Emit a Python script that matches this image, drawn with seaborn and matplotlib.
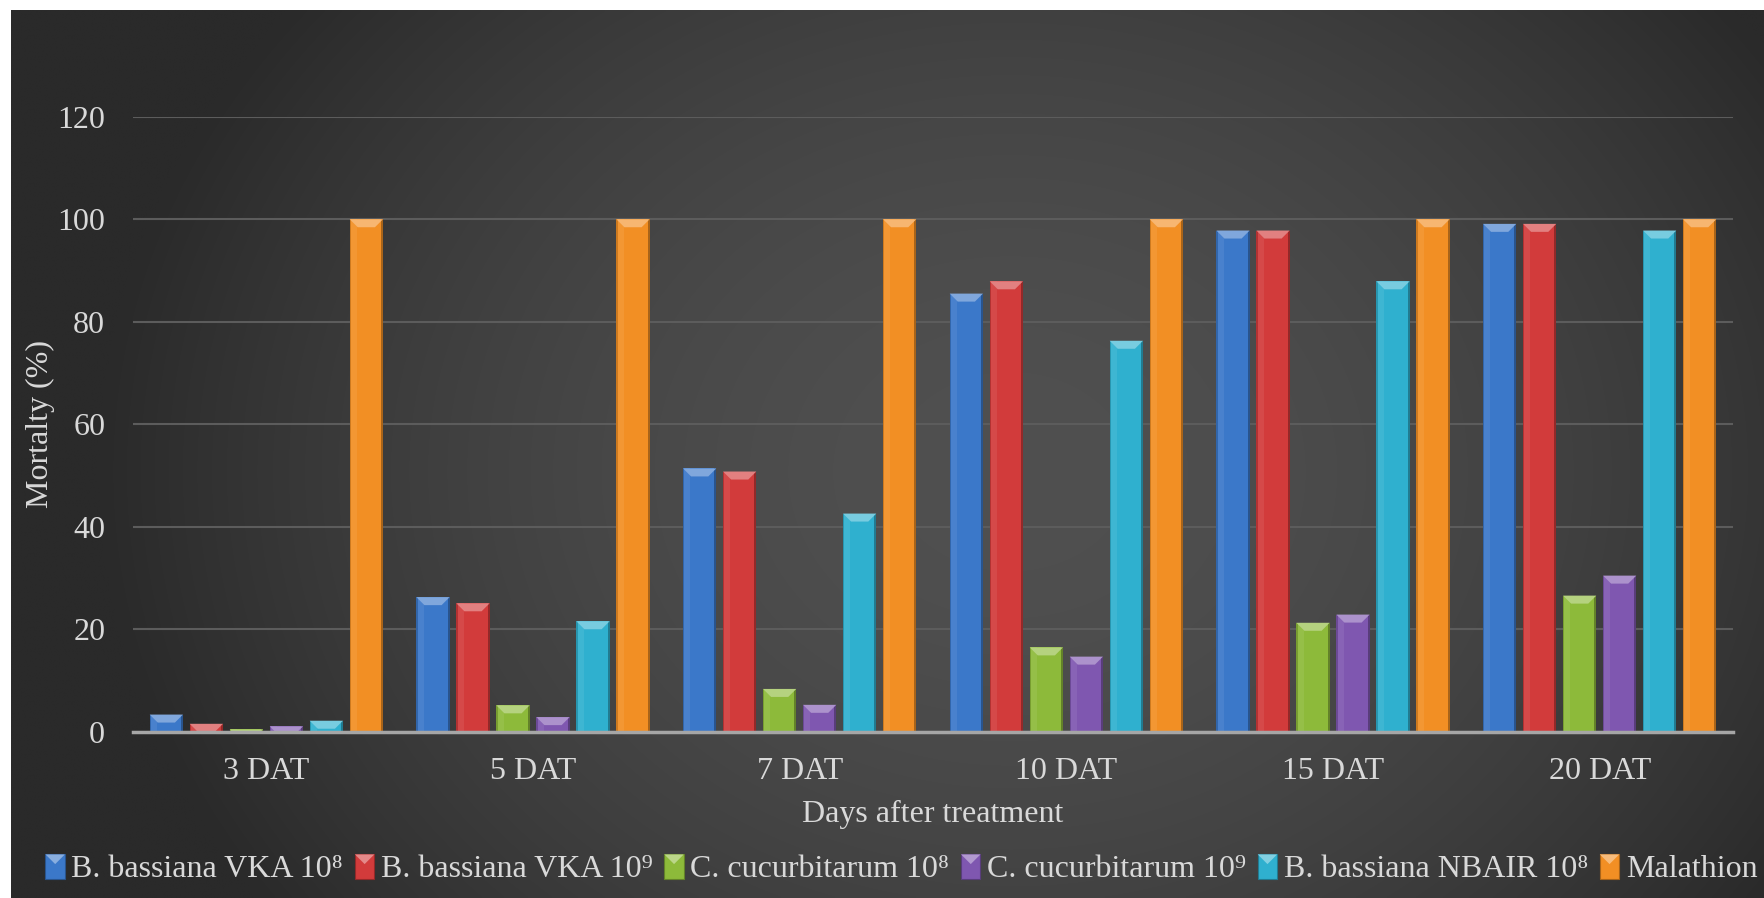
import numpy as np
import pandas as pd
import matplotlib
matplotlib.use("Agg")
import matplotlib.pyplot as plt
import seaborn as sns
from matplotlib.patches import Rectangle, Polygon
from matplotlib.legend_handler import HandlerBase
from matplotlib.colors import to_rgb

# ---- data -------------------------------------------------------------
days = ["3 DAT", "5 DAT", "7 DAT", "10 DAT", "15 DAT", "20 DAT"]
treatments = ["B. bassiana VKA 10⁸", "B. bassiana VKA 10⁹",
              "C. cucurbitarum 10⁸", "C. cucurbitarum 10⁹",
              "B. bassiana NBAIR 10⁸", "Malathion"]
vka_8 = [3.4, 26.3, 51.4, 85.5, 97.8, 99.1]
vka_9 = [1.6, 25.1, 50.8, 87.9, 97.8, 99.1]
cuc_8 = [0.5, 5.2, 8.4, 16.5, 21.3, 26.6]
cuc_9 = [1.1, 2.9, 5.3, 14.7, 22.9, 30.5]
nbair_8 = [2.2, 21.6, 42.6, 76.3, 87.9, 97.8]
malathion = [100, 100, 100, 100, 100, 100]
series = [vka_8, vka_9, cuc_8, cuc_9, nbair_8, malathion]
colors = ["#3b78c9", "#d23b3b", "#8dba3a", "#7f57b0", "#2fb0cf", "#f28f24"]
yticks = [0, 20, 40, 60, 80, 100, 120]

df = pd.DataFrame({
    "day": np.tile(days, len(treatments)),
    "treatment": np.repeat(treatments, len(days)),
    "mortality": np.concatenate(series),
})

# ---- style ------------------------------------------------------------
sns.set_theme(style="white")
plt.rcParams["font.family"] = ["Liberation Serif", "DejaVu Serif"]
txt = "#d9d9d9"

W, H, DPI = 1765, 898, 100
fig = plt.figure(figsize=(W / DPI, H / DPI), dpi=DPI, facecolor="white")

# dark panel with a soft radial glow
bg = fig.add_axes([11 / W, 0, 1 - 11 / W, 1 - 10 / H], zorder=0)
gx, gy = np.meshgrid(np.linspace(0, 1, 600), np.linspace(0, 1, 300))
r = np.sqrt(((gx - 0.57) / 0.52) ** 2 + ((gy - 0.52) / 0.85) ** 2)
dark, light = 0x2a / 255, 0x50 / 255
val = light - (light - dark) * np.clip(r, 0, 1) ** 1.8
bg.imshow(np.dstack([val, val, val]), aspect="auto", extent=[0, 1, 0, 1],
          origin="upper", interpolation="bilinear")
bg.set_axis_off()

ax = fig.add_axes([133 / W, 166 / H, 1600 / W, (732 - 116.7) / H], zorder=1)
ax.set_facecolor("none")

sns.barplot(data=df, x="day", y="mortality", hue="treatment",
            hue_order=treatments, order=days, palette=colors,
            width=0.9, gap=0.17, ax=ax, legend=False, saturation=1,
            edgecolor="none", zorder=3)

ax.set_ylim(0, 120)
ax.set_xlim(-0.5, len(days) - 0.5)
ax.set_yticks(yticks)
ax.grid(axis="y", color="#5c5c5c", linewidth=1.5, zorder=0)
ax.grid(axis="x", visible=False)
for s in ["top", "right", "left"]:
    ax.spines[s].set_visible(False)
ax.spines["bottom"].set_color("#a6a6a6")
ax.spines["bottom"].set_linewidth(2.5)
ax.spines["bottom"].set_zorder(5)
ax.tick_params(axis="both", length=0, colors=txt, labelsize=23)
ax.tick_params(axis="y", pad=20)
ax.tick_params(axis="x", pad=18)
ax.set_xlabel("Days after treatment", color=txt, fontsize=23, labelpad=10)
ax.set_ylabel("Mortalty (%)", color=txt, fontsize=23, labelpad=2)


def lighten(c, f):
    r_, g_, b_ = to_rgb(c)
    return (r_ + (1 - r_) * f, g_ + (1 - g_) * f, b_ + (1 - b_) * f)


def darken(c, f):
    r_, g_, b_ = to_rgb(c)
    return (r_ * (1 - f), g_ * (1 - f), b_ * (1 - f))


# bevelled tops and shaded edges on each bar
px_x = 1600 / len(days)
px_y = (732 - 116.7) / 120
bev = 8
for cont, col in zip(ax.containers, colors):
    for bar in cont:
        x0, w, h = bar.get_x(), bar.get_width(), bar.get_height()
        x1 = x0 + w
        dpx = min(bev, h * px_y)
        dx, dy = dpx / px_x, dpx / px_y
        ax.add_patch(Rectangle((x1 - 2 / px_x, 0), 2 / px_x, h,
                               color=darken(col, 0.3), lw=0, zorder=4))
        ax.add_patch(Rectangle((x0, 0), 1.2 / px_x, h,
                               color=darken(col, 0.15), lw=0, zorder=4))
        ax.add_patch(Rectangle((x0 + 1.2 / px_x, 0), 6 / px_x, h,
                               color=lighten(col, 0.07), lw=0, zorder=4))
        ax.add_patch(Polygon([(x0, h), (x1, h), (x1 - dx, h - dy),
                              (x0 + dx, h - dy)], closed=True,
                             color=lighten(col, 0.35), lw=0, zorder=4))


class BevelHandle(HandlerBase):
    def create_artists(self, legend, orig, xd, yd, width, height, fontsize, trans):
        col = orig.get_facecolor()
        w, h = 14, 18
        x0 = xd + width - w
        y0 = -yd + (height - h) / 2 - 1
        body = Rectangle((x0, y0), w, h, facecolor=col, edgecolor=darken(col, 0.3),
                         lw=0.8, transform=trans)
        top = Polygon([(x0, y0 + h), (x0 + w, y0 + h), (x0 + w / 2, y0 + h - 7)],
                      closed=True, facecolor=lighten(col, 0.4), lw=0, transform=trans)
        return [body, top]


handles = [Rectangle((0, 0), 1, 1, facecolor=c) for c in colors]
leg = fig.legend(handles, treatments, loc="center", bbox_to_anchor=(0.5 + 19 / W, 29 / H),
                 ncol=6, frameon=False, fontsize=23, handlelength=0.6,
                 handletextpad=0.2, columnspacing=0.38,
                 handler_map={Rectangle: BevelHandle()})
for t in leg.get_texts():
    t.set_color(txt)

fig.savefig("out.png", dpi=DPI, facecolor="white")
